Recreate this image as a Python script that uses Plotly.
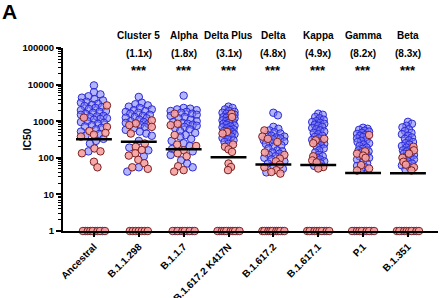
import math
import plotly.graph_objects as go

# ---------------- data ----------------
variants = ["Ancestral", "B.1.1.298", "B.1.1.7", "B.1.617.2 K417N",
            "B.1.617.2", "B.1.617.1", "P.1", "B.1.351"]
names = ["", "Cluster 5", "Alpha", "Delta Plus", "Delta", "Kappa", "Gamma", "Beta"]
folds = ["", "(1.1x)", "(1.8x)", "(3.1x)", "(4.8x)", "(4.9x)", "(8.2x)", "(8.3x)"]
stars = ["", "***", "***", "***", "***", "***", "***", "***"]

blue_anc = [9500, 6200, 5400, 4800, 4400, 4000, 3700, 3400, 3200, 3000, 2800, 2600, 2450,
            2300, 2150, 2000, 1900, 1800, 1700, 1600, 1500, 1400, 1350, 1300, 1200, 1150,
            1100, 1000, 950, 900, 850, 780, 720, 660, 600, 520, 450, 400, 330, 290, 245, 150]
pink_anc = [2700, 1250, 700, 540, 480, 430, 380, 180, 150, 133, 78, 55]
blue_c5 = [4600, 3200, 2900, 2700, 2500, 2300, 2100, 2000, 1900, 1800, 1700, 1600, 1500,
           1400, 1300, 1250, 1200, 1100, 1000, 950, 900, 850, 800, 700, 640, 580, 520, 460,
           400, 290, 190, 160, 110, 55, 42]
pink_c5 = [1050, 870, 780, 700, 460, 245, 200, 163, 133, 115, 88, 71, 55, 50]
blue_al = [5000, 2300, 2200, 2100, 2000, 1900, 1800, 1700, 1600, 1500, 1400, 1300, 1200,
           1100, 1000, 950, 900, 850, 800, 750, 700, 650, 600, 540, 480, 420, 380, 330, 290,
           250, 210, 175, 150, 120, 85, 70, 55]
pink_al = [1600, 850, 780, 420, 230, 210, 160, 133, 110, 59, 46, 42]
blue_dp = [2500, 2300, 2100, 1900, 1800, 1700, 1600, 1500, 1400, 1300, 1250, 1200, 1100,
           1050, 1000, 950, 900, 850, 800, 760, 720, 680, 640, 600, 570, 540, 500, 470, 440,
           410, 380, 350, 320, 300, 270, 240]
pink_dp = [1600, 1300, 510, 460, 230, 200, 170, 145, 70, 56, 46]
blue_de = [1700, 1450, 700, 620, 560, 500, 460, 430, 400, 380, 360, 340, 320, 300, 280, 260,
           240, 220, 200, 180, 160, 150, 140, 130, 120, 110, 100, 90, 80, 70, 60, 50, 40]
pink_de = [560, 380, 330, 270, 140, 120, 95, 80, 65, 55, 46, 41, 37]
blue_ka = [1600, 1500, 1300, 1200, 1100, 1000, 950, 900, 850, 800, 750, 700, 650, 600, 560,
           520, 480, 440, 400, 370, 340, 310, 280, 260, 240, 220, 200, 180, 160, 140, 120,
           110, 100, 90, 80, 70, 60]
pink_ka = [330, 300, 250, 110, 85, 75, 56, 51]
blue_ga = [660, 620, 580, 550, 520, 480, 450, 420, 400, 370, 340, 310, 290, 270, 250, 230,
           210, 190, 175, 160, 150, 140, 125, 110, 100, 90, 80, 70, 60, 55, 48]
pink_ga = [420, 150, 130, 115, 100, 63, 51, 45]
blue_be = [960, 850, 750, 680, 600, 540, 480, 440, 400, 360, 330, 300, 270, 250, 230, 210,
           190, 170, 160, 150, 140, 130, 120, 110, 100, 90, 80, 70, 62, 55, 48]
pink_be = [200, 160, 130, 100, 78, 65, 55, 45]

blue_groups = [blue_anc, blue_c5, blue_al, blue_dp, blue_de, blue_ka, blue_ga, blue_be]
pink_groups = [pink_anc, pink_c5, pink_al, pink_dp, pink_de, pink_ka, pink_ga, pink_be]
ones_blue = [3, 0, 4, 3, 3, 2, 3, 2]   # non-neutralising samples plotted at 1
ones_pink = [7, 7, 6, 8, 9, 8, 7, 8]
geo_mean = [320, 275, 172, 103, 66, 64, 38.5, 38]

# ---------------- layout helpers (pixel geometry) ----------------
W, H = 440, 298
ML, MR, MT, MB = 63, 2, 48, 67
XR = (-0.69, 7.67)
PLOT_W = W - ML - MR
PLOT_H = H - MT - MB
PXU = PLOT_W / (XR[1] - XR[0])      # px per category unit
PPD = PLOT_H / 5.0                   # px per decade
dmin_g = [6.5, 6.5, 6.5, 4.2, 5.0, 4.2, 4.2, 4.2]
wmax_g = [13, 13, 13, 6, 11, 6, 6, 6]
ones_half = [11, 9, 11, 11, 11, 11, 11, 11]


def swarm(vals, dmin, wmax):
    ys = [-PPD * math.log10(v) for v in vals]
    cands = [0.0]
    s = 0.5
    while s <= wmax:
        cands += [s, -s]
        s += 0.5
    placed, offs = [], []
    for y in ys:
        best, bestd = 0.0, -1
        chosen = None
        for c in cands:
            md = min((math.hypot(c - px, y - py) for px, py in placed), default=1e9)
            if md >= dmin:
                chosen = c
                break
            if md > bestd:
                bestd, best = md, c
        if chosen is None:
            chosen = best
        placed.append((chosen, y))
        offs.append(chosen)
    return offs


bx, by, px_, py_ = [], [], [], []
for i in range(len(variants)):
    pts = [(v, "b") for v in blue_groups[i]] + [(v, "p") for v in pink_groups[i]]
    pts.sort(key=lambda t: -t[0])
    offs = swarm([p[0] for p in pts], dmin_g[i], wmax_g[i])
    for (v, c), o in zip(pts, offs):
        if c == "b":
            bx.append(i + o / PXU); by.append(v)
        else:
            px_.append(i + o / PXU); py_.append(v)
    # row of samples at 1
    n = ones_blue[i] + ones_pink[i]
    nb = ones_blue[i]
    blue_idx = set(int((j + 0.5) * n / nb) for j in range(nb)) if nb else set()
    hw = ones_half[i]
    for k in range(n):
        o = -hw + 2 * hw * k / (n - 1)
        if k in blue_idx:
            bx.append(i + o / PXU); by.append(1)
        else:
            px_.append(i + o / PXU); py_.append(1)

mx, my = [], []
for i, g in enumerate(geo_mean):
    mx += [i - 0.4, i + 0.4, None]
    my += [g, g, None]

fig = go.Figure()
fig.add_trace(go.Scatter(x=bx, y=by, mode="markers", cliponaxis=False,
                         marker=dict(size=7.5, color="rgba(120,120,245,0.55)",
                                     line=dict(color="#2b2bd6", width=1))))
fig.add_trace(go.Scatter(x=px_, y=py_, mode="markers", cliponaxis=False,
                         marker=dict(size=7.5, color="rgba(245,160,160,0.9)",
                                     line=dict(color="#7a1f1f", width=1))))
fig.add_trace(go.Scatter(x=mx, y=my, mode="lines", cliponaxis=False,
                         line=dict(color="black", width=2.5)))

FONT = "Liberation Sans, Arial, sans-serif"
dec = [1, 10, 100, 1000, 10000, 100000]
minor_vals = [m * d for d in dec[:-1] for m in range(2, 10)]

fig.update_layout(
    width=W, height=H, showlegend=False,
    margin=dict(l=ML, r=MR, t=MT, b=MB, autoexpand=False),
    paper_bgcolor="white", plot_bgcolor="white",
    font=dict(family=FONT, color="black"),
    xaxis=dict(range=list(XR), tickmode="array", tickvals=list(range(len(variants))),
               ticktext=variants, tickangle=-45, automargin=False,
               tickfont=dict(size=10, family=FONT, weight="bold"),
               showline=True, linewidth=2, linecolor="black",
               ticks="outside", ticklen=4, tickwidth=1.5, tickcolor="black",
               showgrid=False, zeroline=False),
    yaxis=dict(type="log", range=[0, 5], tickmode="array", tickvals=dec,
               ticktext=[str(d) for d in dec], automargin=False,
               tickfont=dict(size=9.5, family=FONT, weight="bold"),
               showline=True, linewidth=2, linecolor="black",
               ticks="outside", ticklen=5, tickwidth=1.5, tickcolor="black",
               minor=dict(tickmode="array", tickvals=minor_vals, ticks="outside",
                          ticklen=3, tickwidth=1, tickcolor="black", showgrid=False),
               showgrid=False, zeroline=False),
)


def py(p):
    return (H - MB - p) / PLOT_H


ann = []
for i in range(len(variants)):
    if names[i]:
        for txt, ypix, fs in ((names[i], 36, 10), (folds[i], 53, 10), (stars[i], 70, 13)):
            ann.append(dict(x=i, y=py(ypix), xref="x", yref="paper", text="<b>%s</b>" % txt,
                            showarrow=False, xanchor="center", yanchor="middle",
                            font=dict(size=fs, family=FONT, color="black")))
ann.append(dict(x=(9.5 - ML) / PLOT_W, y=py(11), xref="paper", yref="paper",
                text="<b>A</b>", showarrow=False, xanchor="center", yanchor="middle",
                font=dict(size=21, family=FONT, color="black")))
ann.append(dict(x=(26.5 - ML) / PLOT_W, y=py(140), xref="paper", yref="paper",
                text="<b>IC50</b>", showarrow=False, textangle=-90,
                xanchor="center", yanchor="middle",
                font=dict(size=10.5, family=FONT, color="black")))
fig.update_layout(annotations=ann)

fig.write_html("out.html", config={"displayModeBar": False},
               post_script="document.body.style.margin='0';"
                           "document.body.style.overflow='hidden';")
